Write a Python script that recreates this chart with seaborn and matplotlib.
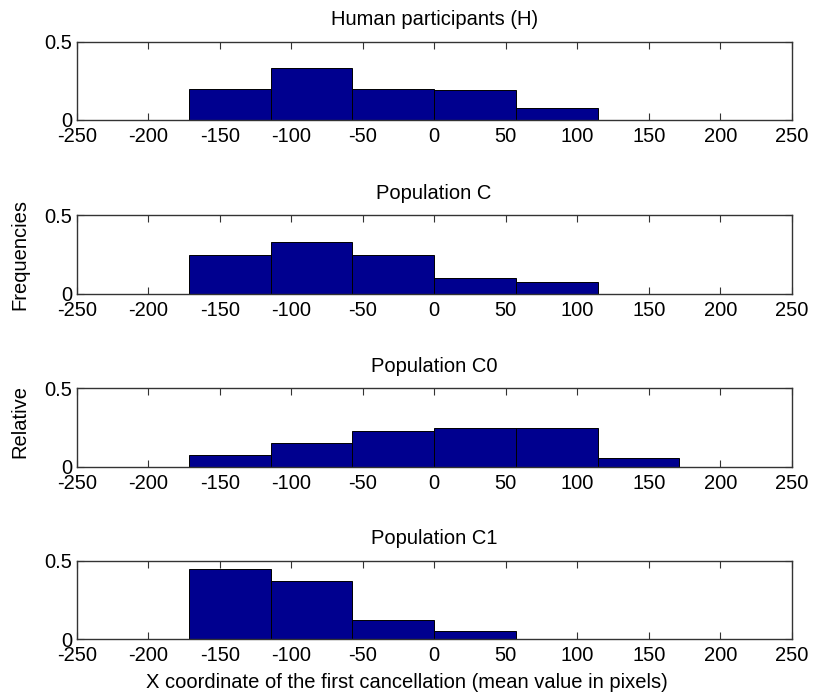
import numpy as np
import pandas as pd
import matplotlib
matplotlib.use("Agg")
import matplotlib.pyplot as plt
import seaborn as sns

# Bin edges (pixels) and relative frequencies
bin_edges = [-171.43, -114.29, -57.14, 0.0, 57.14, 114.29, 171.43]
titles = ["Human participants (H)", "Population C", "Population C0", "Population C1"]
freq_H = [0.200, 0.333, 0.200, 0.190, 0.077, 0.000]
freq_C = [0.250, 0.328, 0.250, 0.100, 0.074, 0.000]
freq_C0 = [0.076, 0.152, 0.228, 0.249, 0.249, 0.055]
freq_C1 = [0.451, 0.374, 0.126, 0.051, 0.000, 0.000]
series = [freq_H, freq_C, freq_C0, freq_C1]
xticks = [-250, -200, -150, -100, -50, 0, 50, 100, 150, 200, 250]
yticks = [0, 0.5]
ytick_labels = ["0", "0.5"]

sns.set_theme(style="white")
plt.rcParams["font.family"] = ["Liberation Sans", "DejaVu Sans"]
plt.rcParams.update({
    "xtick.direction": "in", "ytick.direction": "in",
    "xtick.major.size": 5, "ytick.major.size": 5,
    "xtick.major.width": 0.8, "ytick.major.width": 0.8,
    "xtick.color": "#333333", "ytick.color": "#333333",
    "xtick.labelcolor": "black", "ytick.labelcolor": "black",
    "axes.edgecolor": "#333333", "axes.linewidth": 1.0,
    "text.color": "black", "axes.titlecolor": "black",
    "axes.labelcolor": "black",
})

fig = plt.figure(figsize=(8.13, 6.96), dpi=100)
bottoms = [0.8276, 0.578, 0.3295, 0.0815]
left, width, height = 0.0943, 0.8795, 0.1125

centers = [(bin_edges[i] + bin_edges[i + 1]) / 2 for i in range(len(bin_edges) - 1)]
for k, (title, freqs) in enumerate(zip(titles, series)):
    ax = fig.add_axes([left, bottoms[k], width, height])
    df = pd.DataFrame({"x": centers, "w": freqs})
    sns.histplot(data=df, x="x", weights="w", bins=bin_edges, stat="count",
                 color="#00008F", edgecolor="black", linewidth=0.7, alpha=1.0,
                 ax=ax)
    ax.set_xlim(-250, 250)
    ax.set_ylim(0, 0.5)
    ax.set_xticks(xticks)
    ax.set_xticklabels([str(t) for t in xticks], fontsize=14.5)
    ax.set_yticks(yticks)
    ax.set_yticklabels(ytick_labels, fontsize=14.5)
    ax.tick_params(axis="x", top=True, bottom=True, pad=5)
    ax.tick_params(axis="y", left=True, right=True, pad=3)
    ax.set_xlabel("")
    ax.set_ylabel("")
    ax.set_title(title, fontsize=14.5, pad=12)
    for s in ax.spines.values():
        s.set_visible(True)

fig.text(0.5, 1 - 683 / 696, "X coordinate of the first cancellation (mean value in pixels)",
         ha="center", va="center", fontsize=14.5)
fig.text(20 / 813, 1 - 254 / 696, "Frequencies", rotation=90, ha="center", va="center", fontsize=14.5)
fig.text(20 / 813, 1 - 422 / 696, "Relative", rotation=90, ha="center", va="center", fontsize=14.5)

fig.savefig("out.png", dpi=100)
